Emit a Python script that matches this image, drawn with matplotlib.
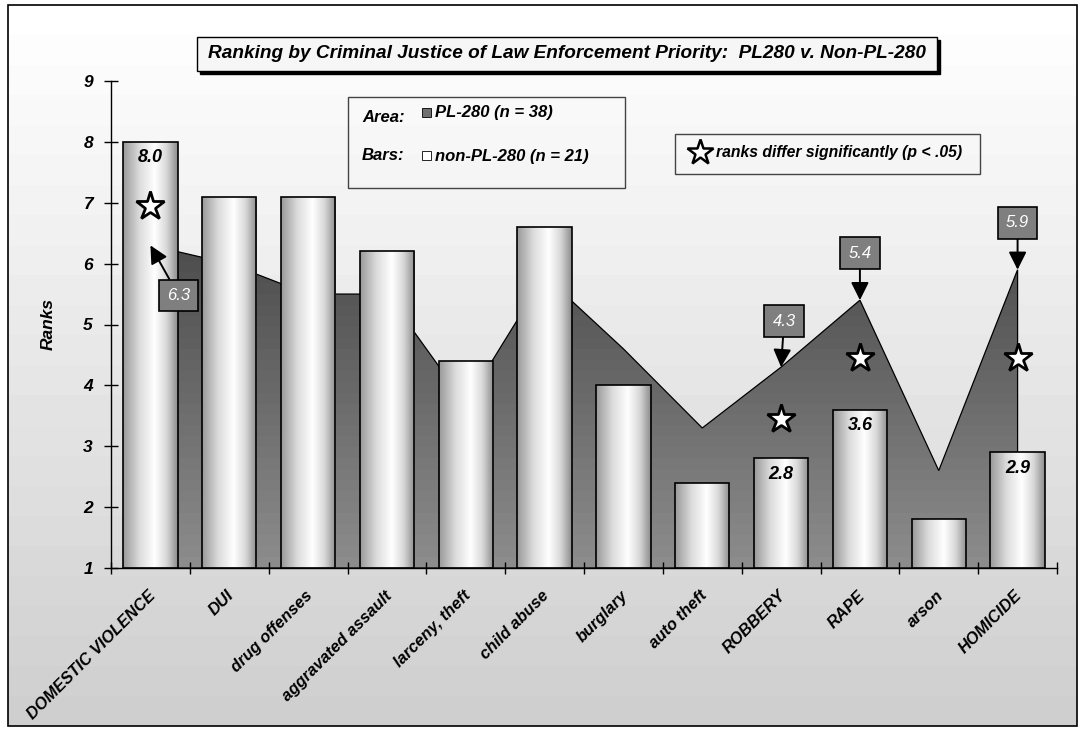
import numpy as np
import matplotlib
matplotlib.use('Agg')
import matplotlib.pyplot as plt
from matplotlib.patches import Rectangle, Polygon
from matplotlib.lines import Line2D
from matplotlib.colors import LinearSegmentedColormap

# ---------------- data ----------------
categories = ['DOMESTIC VIOLENCE', 'DUI', 'drug offenses', 'aggravated assault',
              'larceny, theft', 'child abuse', 'burglary', 'auto theft',
              'ROBBERY', 'RAPE', 'arson', 'HOMICIDE']
pl280_ranks = [6.3, 6.0, 5.5, 5.5, 3.7, 5.8, 4.6, 3.3, 4.3, 5.4, 2.6, 5.9]
non_pl280_ranks = [8.0, 7.1, 7.1, 6.2, 4.4, 6.6, 4.0, 2.4, 2.8, 3.6, 1.8, 2.9]
y_ticks = [1, 2, 3, 4, 5, 6, 7, 8, 9]
sig_categories = ['DOMESTIC VIOLENCE', 'ROBBERY', 'RAPE', 'HOMICIDE']
sig_star_levels = [6.95, 3.45, 4.45, 4.45]
callout_categories = ['DOMESTIC VIOLENCE', 'ROBBERY', 'RAPE', 'HOMICIDE']
callout_offsets_px = [(28, -50), (3, 46), (0, 47), (0, 47)]
bar_label_categories = ['DOMESTIC VIOLENCE', 'ROBBERY', 'RAPE', 'HOMICIDE']

title_text = 'Ranking by Criminal Justice of Law Enforcement Priority:  PL280 v. Non-PL-280'

FONT = ['Liberation Sans Narrow', 'Liberation Sans', 'DejaVu Sans']
FONT2 = ['Liberation Sans', 'DejaVu Sans']

W, H = 1084, 730
fig = plt.figure(figsize=(W / 100, H / 100), dpi=100)
fig.patch.set_facecolor('white')

def fx(x):
    return x / W

def fy(y):
    return 1 - y / H

# background gradient for chart area
bg = fig.add_axes([fx(8), fy(726), fx(1077) - fx(8), fy(5) - fy(726)], zorder=0)
bg.set_axis_off()
g = np.linspace(1.0, 0.81, 24).reshape(-1, 1)
bg.imshow(g, cmap='gray', vmin=0, vmax=1, aspect='auto', extent=[0, 1, 0, 1],
          interpolation='nearest')
bg.set_xlim(0, 1); bg.set_ylim(0, 1)
fig.add_artist(Rectangle((fx(8), fy(726)), fx(1077) - fx(8), fy(5) - fy(726),
                         transform=fig.transFigure, fill=False, ec='black', lw=1.2, zorder=10))

# main axes
ax = fig.add_axes([fx(111), fy(568), fx(1057) - fx(111), fy(81) - fy(568)], zorder=1)
ax.patch.set_alpha(0)

n = len(categories)
xc = np.arange(n) + 0.5

# area (PL-280) with vertical gradient
verts = [(xc[0], 1)] + list(zip(xc, pl280_ranks)) + [(xc[-1], 1)]
poly = Polygon(verts, closed=True, fc='none', ec='black', lw=0.9, zorder=1.5)
ax.add_patch(poly)
area_cmap = LinearSegmentedColormap.from_list('area', ['#8c8c8c', '#4c4c4c'])
ga = np.linspace(0, 1, 30).reshape(-1, 1)
im = ax.imshow(ga, cmap=area_cmap, origin='lower', aspect='auto',
               extent=[xc[0], xc[-1], 1, 6.4], zorder=1, interpolation='nearest')
im.set_clip_path(poly)

# bars (non-PL-280) with cylinder gradient
bars = ax.bar(xc, [v - 1 for v in non_pl280_ranks], bottom=1, width=0.69,
              fc='none', ec='black', lw=1.2, zorder=2.5)
bar_cmap = LinearSegmentedColormap.from_list(
    'bar', [(0, '#9a9a9a'), (0.3, '#dcdcdc'), (0.58, '#ffffff'), (0.8, '#d8d8d8'), (1, '#8e8e8e')])
gb = np.linspace(0, 1, 64).reshape(1, -1)
for b in bars:
    x0, y0 = b.get_x(), b.get_y()
    bi = ax.imshow(gb, cmap=bar_cmap, aspect='auto',
                   extent=[x0, x0 + b.get_width(), y0, y0 + b.get_height()],
                   zorder=2, interpolation='bilinear')
    bi.set_clip_path(b)

ax.set_xlim(0, n)
ax.set_ylim(1, 9)

# axes style
for s in ['top', 'right']:
    ax.spines[s].set_visible(False)
ax.spines['left'].set_linewidth(1.0)
ax.spines['bottom'].set_linewidth(1.0)
ax.set_yticks(y_ticks)
ax.set_yticklabels([str(t) for t in y_ticks], family=FONT, fontweight='bold',
                   fontstyle='italic', fontsize=12.5)
ax.tick_params(axis='y', direction='inout', length=10, width=1, pad=8)
ax.set_xticks(np.arange(n + 1))
ax.set_xticklabels([])
ax.tick_params(axis='x', direction='inout', length=9, width=1)
ax.set_ylabel('Ranks', family=FONT, fontweight='bold', fontstyle='italic',
              fontsize=12.5, labelpad=20)

# category labels
for i, c in enumerate(categories):
    ax.annotate(c, xy=(xc[i], 1), xycoords='data', xytext=(-3, -20),
                textcoords='offset pixels', rotation=45, rotation_mode='anchor',
                ha='right', va='top', family=FONT, fontweight='bold',
                fontstyle='italic', fontsize=11.8, annotation_clip=False)

# significance stars
for c, lvl in zip(sig_categories, sig_star_levels):
    i = categories.index(c)
    ax.plot([xc[i]], [lvl], marker='*', ms=21, mfc='white', mec='black',
            mew=2.0, zorder=4, ls='none')

# callouts for area values
for c, (dx, dy) in zip(callout_categories, callout_offsets_px):
    i = categories.index(c)
    v = pl280_ranks[i]
    ax.annotate(f'{v:.1f}', xy=(xc[i], v), xytext=(dx, dy),
                textcoords='offset pixels', ha='center', va='center',
                color='white', fontstyle='italic', family=FONT2, fontsize=12,
                bbox=dict(boxstyle='square,pad=0.5', fc='#7f7f7f', ec='black', lw=1.2),
                arrowprops=dict(arrowstyle='-|>,head_length=0.9,head_width=0.45',
                                color='black', lw=1.4, shrinkA=0, shrinkB=0),
                zorder=5)

# bar value labels
for c in bar_label_categories:
    i = categories.index(c)
    v = non_pl280_ranks[i]
    ax.annotate(f'{v:.1f}', xy=(xc[i], v), xytext=(0, -16), textcoords='offset pixels',
                ha='center', va='center', family=FONT, fontweight='bold',
                fontstyle='italic', fontsize=13, zorder=5)

# title box
fig.add_artist(Rectangle((fx(200), fy(74)), fx(940) - fx(200), fy(40) - fy(74),
                         transform=fig.transFigure, fc='black', ec='black', zorder=11))
fig.add_artist(Rectangle((fx(197), fy(71)), fx(937) - fx(197), fy(37) - fy(71),
                         transform=fig.transFigure, fc='#f6f6f6', ec='black', lw=1, zorder=12))
fig.text(fx(567), fy(54), title_text, ha='center', va='center', family=FONT,
         fontweight='bold', fontstyle='italic', fontsize=13.7, zorder=13)

# legend box
fig.add_artist(Rectangle((fx(348), fy(188)), fx(625) - fx(348), fy(97) - fy(188),
                         transform=fig.transFigure, fill=False, ec='#444444', lw=1, zorder=12))
fig.text(fx(362), fy(118), 'Area:', ha='left', va='center', family=FONT,
         fontweight='bold', fontstyle='italic', fontsize=12, zorder=13)
fig.text(fx(362), fy(156), 'Bars:', ha='left', va='center', family=FONT,
         fontweight='bold', fontstyle='italic', fontsize=12, zorder=13)
fig.add_artist(Rectangle((fx(422), fy(117)), fx(431) - fx(422), fy(108) - fy(117),
                         transform=fig.transFigure, fc='#707070', ec='black', lw=0.6, zorder=12))
fig.add_artist(Rectangle((fx(422), fy(160)), fx(431) - fx(422), fy(151) - fy(160),
                         transform=fig.transFigure, fc='white', ec='black', lw=0.6, zorder=12))
fig.text(fx(435), fy(113), 'PL-280 (n = 38)', ha='left', va='center', family=FONT,
         fontweight='bold', fontstyle='italic', fontsize=12, zorder=13)
fig.text(fx(435), fy(156), 'non-PL-280 (n = 21)', ha='left', va='center', family=FONT,
         fontweight='bold', fontstyle='italic', fontsize=12, zorder=13)

# significance legend
fig.add_artist(Rectangle((fx(675), fy(174)), fx(980) - fx(675), fy(134) - fy(174),
                         transform=fig.transFigure, fill=False, ec='#444444', lw=1, zorder=12))
fig.add_artist(Line2D([fx(700)], [fy(152)], marker='*', ms=19, mfc='white', mec='black',
                      mew=1.8, transform=fig.transFigure, zorder=13))
fig.text(fx(716), fy(153), 'ranks differ significantly (p < .05)', ha='left', va='center',
         family=FONT, fontweight='bold', fontstyle='italic', fontsize=11.3, zorder=13)

fig.savefig('out.png', dpi=100)
